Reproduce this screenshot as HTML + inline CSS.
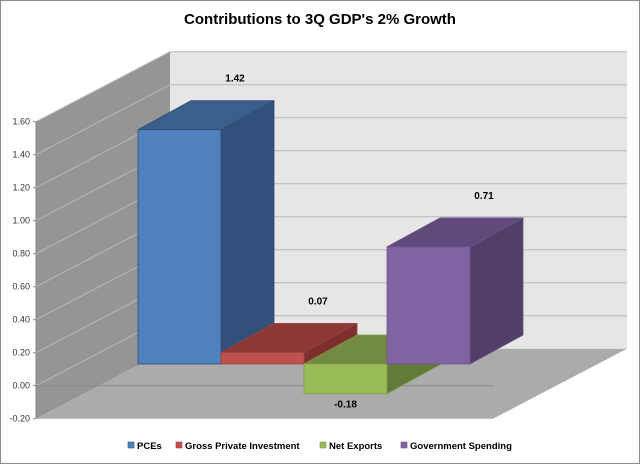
<!DOCTYPE html>
<html><head><meta charset="utf-8"><style>
body{margin:0;background:#fff;font-family:"Liberation Sans",sans-serif}
svg{display:block}
</style></head><body>
<svg id="chart" width="640" height="464" viewBox="0 0 640 464" xmlns="http://www.w3.org/2000/svg">
<rect x="0.5" y="0.5" width="639" height="463" fill="#fff" stroke="#8c8c8c"/>
<text x="320" y="24" text-anchor="middle" font-size="15" font-weight="bold" fill="#000">Contributions to 3Q GDP's 2% Growth</text>
<g id="plot"></g>
<g id="legend"></g>
</svg>
<script>
const categories = ["PCEs","Gross Private Investment","Net Exports","Government Spending"];
const values = [1.42, 0.07, -0.18, 0.71];
const labels = ["1.42","0.07","-0.18","0.71"];
const ticks = [-0.2,0,0.2,0.4,0.6,0.8,1.0,1.2,1.4,1.6];
const tickLabels = ["-0.20","0.00","0.20","0.40","0.60","0.80","1.00","1.20","1.40","1.60"];

const NS="http://www.w3.org/2000/svg";
const plot=document.getElementById('plot');
const PX=165, Y0=385.7, FX=36, FW=457, DX=134, DY=-70;
function yF(v){return Y0-v*PX;}
function mk(tag,attrs,parent){const e=document.createElementNS(NS,tag);for(const k in attrs)e.setAttribute(k,attrs[k]);(parent||plot).appendChild(e);return e;}
const yTop=yF(1.6), yBot=yF(-0.2);
let e;
e=mk('rect',{x:FX+DX,y:yTop+DY,width:FW,height:yBot-yTop,fill:'#e6e6e6'});


e=mk('polygon',{points:`${FX},${yTop} ${FX+DX},${yTop+DY} ${FX+DX},${yBot+DY} ${FX},${yBot}`,fill:'#959595'});


e=mk('polygon',{points:`${FX},${yBot} ${FX+DX},${yBot+DY} ${FX+FW+DX},${yBot+DY} ${FX+FW},${yBot}`,fill:'#ababab'});


ticks.forEach((t,i)=>{
  const y=yF(t);
  if(i>0){
    let g=mk('polyline',{points:`${FX},${y} ${FX+DX},${y+DY} ${FX+DX+FW},${y+DY}`,fill:'none',stroke:'#b8b8b8','stroke-width':1});
    
    
  }
  let tx=mk('text',{x:30,y:y+3,'text-anchor':'end','font-size':9,fill:'#333'});
  tx.textContent=tickLabels[i];
  
  
  let tk=mk('line',{x1:33,x2:FX,y1:y,y2:y,stroke:'#888'});
  
  
});
e=mk('line',{x1:FX,x2:FX,y1:yTop,y2:yBot,stroke:'#888'});


e=mk('line',{x1:FX,x2:FX+FW,y1:yF(0),y2:yF(0),stroke:'#8a8a8a'});



const cols=[["#4f81bd","#3a5f8c","#31507a","#2e4d73"],["#c0504d","#8c3836","#7c2f2d","#a04340"],["#9bbb59","#728a41","#647a38","#7f9a4a"],["#8064a2","#604a7b","#513f68","#6a5488"]];
const BW=83, BX0=138, BY0=364, bdx=53, bdy=-29;
categories.forEach((c,i)=>{
  const x=BX0+i*BW, v=values[i];
  const yt=BY0-Math.max(v,0)*PX, yb=BY0-Math.min(v,0)*PX;
  const g=mk('g',{});
  
  
  const [f,t,s,st]=cols[i];
  mk('polygon',{points:`${x+BW},${yt} ${x+BW+bdx},${yt+bdy} ${x+BW+bdx},${yb+bdy} ${x+BW},${yb}`,fill:s,stroke:st,'stroke-width':0.8},g);
  mk('polygon',{points:`${x},${yt} ${x+bdx},${yt+bdy} ${x+BW+bdx},${yt+bdy} ${x+BW},${yt}`,fill:t,stroke:st,'stroke-width':0.8},g);
  mk('rect',{x:x,y:yt,width:BW,height:yb-yt,fill:f,stroke:st,'stroke-width':0.8},g);
  const lbl=mk('text',{'text-anchor':'middle','font-size':10,'font-weight':'bold',fill:'#000'});
  if(v>=0){lbl.setAttribute('y',yt-48); lbl.setAttribute('x',x+BW+14);}
  else{lbl.setAttribute('y',yb+14); lbl.setAttribute('x',x+BW/2);}
  lbl.textContent=labels[i];
  
  
});

const legend=document.getElementById('legend');
const lx=[128,176,320,401];
categories.forEach((c,i)=>{
  const g=document.createElementNS(NS,'g');
  
  
  legend.appendChild(g);
  mk('rect',{x:lx[i],y:442,width:6,height:6,fill:cols[i][0],stroke:cols[i][3],'stroke-width':0.6},g);
  const t=mk('text',{x:lx[i]+9,y:449,'font-size':9.5,'font-weight':'bold',fill:'#000'},g);
  t.textContent=c;
});
</script>
</body></html>
